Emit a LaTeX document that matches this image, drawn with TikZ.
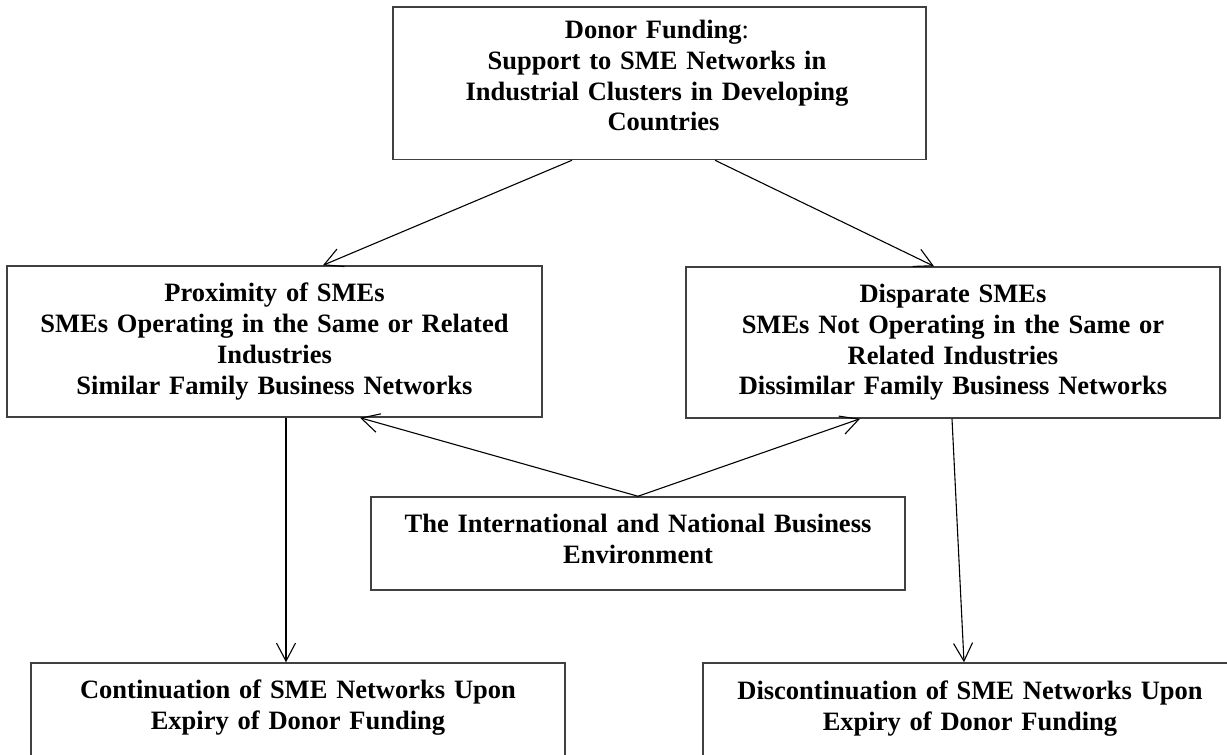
\documentclass[tikz,border=0pt]{standalone}
\usepackage{fontspec}
\setmainfont{Liberation Serif}
\usetikzlibrary{arrows.meta}
\begin{document}
\begin{tikzpicture}[x=0.5pt,y=-0.5pt,
  boxnode/.style={draw=black!75, line width=0.75pt, rectangle, inner sep=0pt},
  txt/.style={anchor=base, align=center, text width=262pt, inner sep=0pt, font=\fontsize{13.25}{15.4}\selectfont\bfseries},
  conn/.style={draw=black, line width=0.55pt, -{Straight Barb[length=9pt,width=9.5pt]}}]
\useasboundingbox (0,0) rectangle (1227,755);
\fill[white] (0,0) rectangle (1227,755);
\begin{scope}
\clip (0,0) rectangle (1227,755);
% boxes
\node[boxnode, minimum width=266.5pt, minimum height=76.25pt] (top) at (659.5,83.25) {};
\node[boxnode, minimum width=267.5pt, minimum height=75.5pt] (left) at (274.5,341.5) {};
\node[boxnode, minimum width=267pt, minimum height=75.5pt] (right) at (953,342.5) {};
\node[boxnode, minimum width=267pt, minimum height=46.5pt] (env) at (638,543.5) {};
\node[boxnode, minimum width=267pt, minimum height=80pt] (bl) at (298,743) {};
\node[boxnode, minimum width=267pt, minimum height=80pt] (br) at (970,743) {};
% texts
\node[txt] (toptext) at (657,38.5) {Donor Funding{\mdseries :}\hspace*{14pt}\\Support to SME Networks in\\Industrial Clusters in Developing\\\hspace*{6.5pt}Countries};
\node[txt] (lefttext) at (274.5,301.7) {Proximity of SMEs\\SMEs Operating in the Same or Related\\Industries\\Similar Family Business Networks};
\node[txt] (righttext) at (953,302.5) {Disparate SMEs\\SMEs Not Operating in the Same or\\Related Industries\\Dissimilar Family Business Networks};
\node[txt] (envtext) at (638,532.2) {The International and National Business\\Environment};
\node[txt] (bltext) at (298,698.8) {Continuation of SME Networks Upon\\Expiry of Donor Funding};
\node[txt] (brtext) at (970,699.3) {Discontinuation of SME Networks Upon\\Expiry of Donor Funding};
% connectors
\draw[conn] ([xshift=-43.75pt]top.south) -- ([xshift=24.25pt]left.north);
\draw[conn] ([xshift=27.75pt]top.south) -- ([xshift=-9.5pt]right.north);
\draw[conn] (env.north) -- ([xshift=42.75pt]left.south);
\draw[conn] (env.north) -- ([xshift=-46.5pt]right.south);
\draw[conn] ([xshift=5.75pt]left.south) -- ([xshift=-6pt]bl.north);
\draw[conn] ([xshift=-0.5pt]right.south) -- ([xshift=-3pt]br.north);
\end{scope}
\end{tikzpicture}
\end{document}
